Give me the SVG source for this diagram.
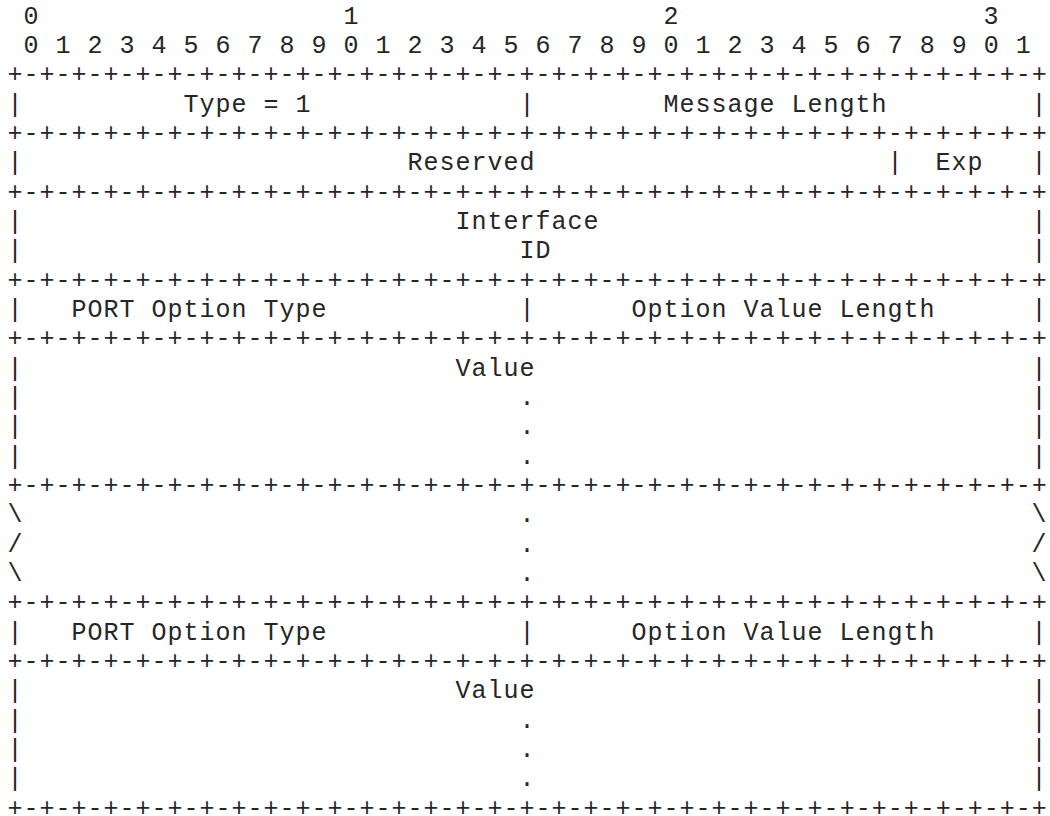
<svg xmlns="http://www.w3.org/2000/svg" xmlns:xlink="http://www.w3.org/1999/xlink" width="1050" height="816" viewBox="0 0 1050 816" xml:space="preserve">
<style>
text { font-family: "Liberation Mono", "Courier New", monospace; font-size: 25px; letter-spacing: 1px; fill: #262626; }
</style>
<defs>
<text id="border" x="7.5" y="0">+-+-+-+-+-+-+-+-+-+-+-+-+-+-+-+-+-+-+-+-+-+-+-+-+-+-+-+-+-+-+-+-+</text>
<text id="bar" x="0" y="0">|</text>
</defs>
<rect x="0" y="0" width="1050" height="816" fill="#fff"/>
<g id="bit-ruler">
<text x="23.5" y="23.5">0</text>
<text x="343.5" y="23.5">1</text>
<text x="663.5" y="23.5">2</text>
<text x="983.5" y="23.5">3</text>
<text x="23.5" y="52.83">0 1 2 3 4 5 6 7 8 9 0 1 2 3 4 5 6 7 8 9 0 1 2 3 4 5 6 7 8 9 0 1</text>
</g>
<g id="connectors">
<use xlink:href="#border" y="82.17"/>
<use xlink:href="#border" y="140.83"/>
<use xlink:href="#border" y="199.5"/>
<use xlink:href="#border" y="287.5"/>
<use xlink:href="#border" y="346.17"/>
<use xlink:href="#border" y="492.83"/>
<use xlink:href="#border" y="610.17"/>
<use xlink:href="#border" y="668.83"/>
<use xlink:href="#border" y="815.5"/>
<use xlink:href="#bar" x="7.5" y="111.5"/><use xlink:href="#bar" x="519.5" y="111.5"/><use xlink:href="#bar" x="1031.5" y="111.5"/>
<use xlink:href="#bar" x="7.5" y="170.17"/><use xlink:href="#bar" x="887.5" y="170.17"/><use xlink:href="#bar" x="1031.5" y="170.17"/>
<use xlink:href="#bar" x="7.5" y="228.83"/><use xlink:href="#bar" x="1031.5" y="228.83"/>
<use xlink:href="#bar" x="7.5" y="258.17"/><use xlink:href="#bar" x="1031.5" y="258.17"/>
<use xlink:href="#bar" x="7.5" y="316.83"/><use xlink:href="#bar" x="519.5" y="316.83"/><use xlink:href="#bar" x="1031.5" y="316.83"/>
<use xlink:href="#bar" x="7.5" y="375.5"/><use xlink:href="#bar" x="1031.5" y="375.5"/>
<use xlink:href="#bar" x="7.5" y="404.83"/><use xlink:href="#bar" x="1031.5" y="404.83"/>
<use xlink:href="#bar" x="7.5" y="434.17"/><use xlink:href="#bar" x="1031.5" y="434.17"/>
<use xlink:href="#bar" x="7.5" y="463.5"/><use xlink:href="#bar" x="1031.5" y="463.5"/>
<text x="7.5" y="522.17">\</text><text x="1031.5" y="522.17">\</text>
<text x="7.5" y="551.5">/</text><text x="1031.5" y="551.5">/</text>
<text x="7.5" y="580.83">\</text><text x="1031.5" y="580.83">\</text>
<use xlink:href="#bar" x="7.5" y="639.5"/><use xlink:href="#bar" x="519.5" y="639.5"/><use xlink:href="#bar" x="1031.5" y="639.5"/>
<use xlink:href="#bar" x="7.5" y="698.17"/><use xlink:href="#bar" x="1031.5" y="698.17"/>
<use xlink:href="#bar" x="7.5" y="727.5"/><use xlink:href="#bar" x="1031.5" y="727.5"/>
<use xlink:href="#bar" x="7.5" y="756.83"/><use xlink:href="#bar" x="1031.5" y="756.83"/>
<use xlink:href="#bar" x="7.5" y="786.17"/><use xlink:href="#bar" x="1031.5" y="786.17"/>
</g>
<g id="field-type"><text x="183.5" y="111.5">Type = 1</text></g>
<g id="field-message-length"><text x="663.5" y="111.5">Message Length</text></g>
<g id="field-reserved"><text x="407.5" y="170.17">Reserved</text></g>
<g id="field-exp"><text x="935.5" y="170.17">Exp</text></g>
<g id="field-interface-id"><text x="455.5" y="228.83">Interface</text><text x="519.5" y="258.17">ID</text></g>
<g id="field-port-option-type-1"><text x="71.5" y="316.83">PORT Option Type</text></g>
<g id="field-option-value-length-1"><text x="631.5" y="316.83">Option Value Length</text></g>
<g id="field-value-1"><text x="455.5" y="375.5">Value</text><text x="519.5" y="404.83">.</text><text x="519.5" y="434.17">.</text><text x="519.5" y="463.5">.</text></g>
<g id="field-ellipsis"><text x="519.5" y="522.17">.</text><text x="519.5" y="551.5">.</text><text x="519.5" y="580.83">.</text></g>
<g id="field-port-option-type-n"><text x="71.5" y="639.5">PORT Option Type</text></g>
<g id="field-option-value-length-n"><text x="631.5" y="639.5">Option Value Length</text></g>
<g id="field-value-n"><text x="455.5" y="698.17">Value</text><text x="519.5" y="727.5">.</text><text x="519.5" y="756.83">.</text><text x="519.5" y="786.17">.</text></g>
</svg>
